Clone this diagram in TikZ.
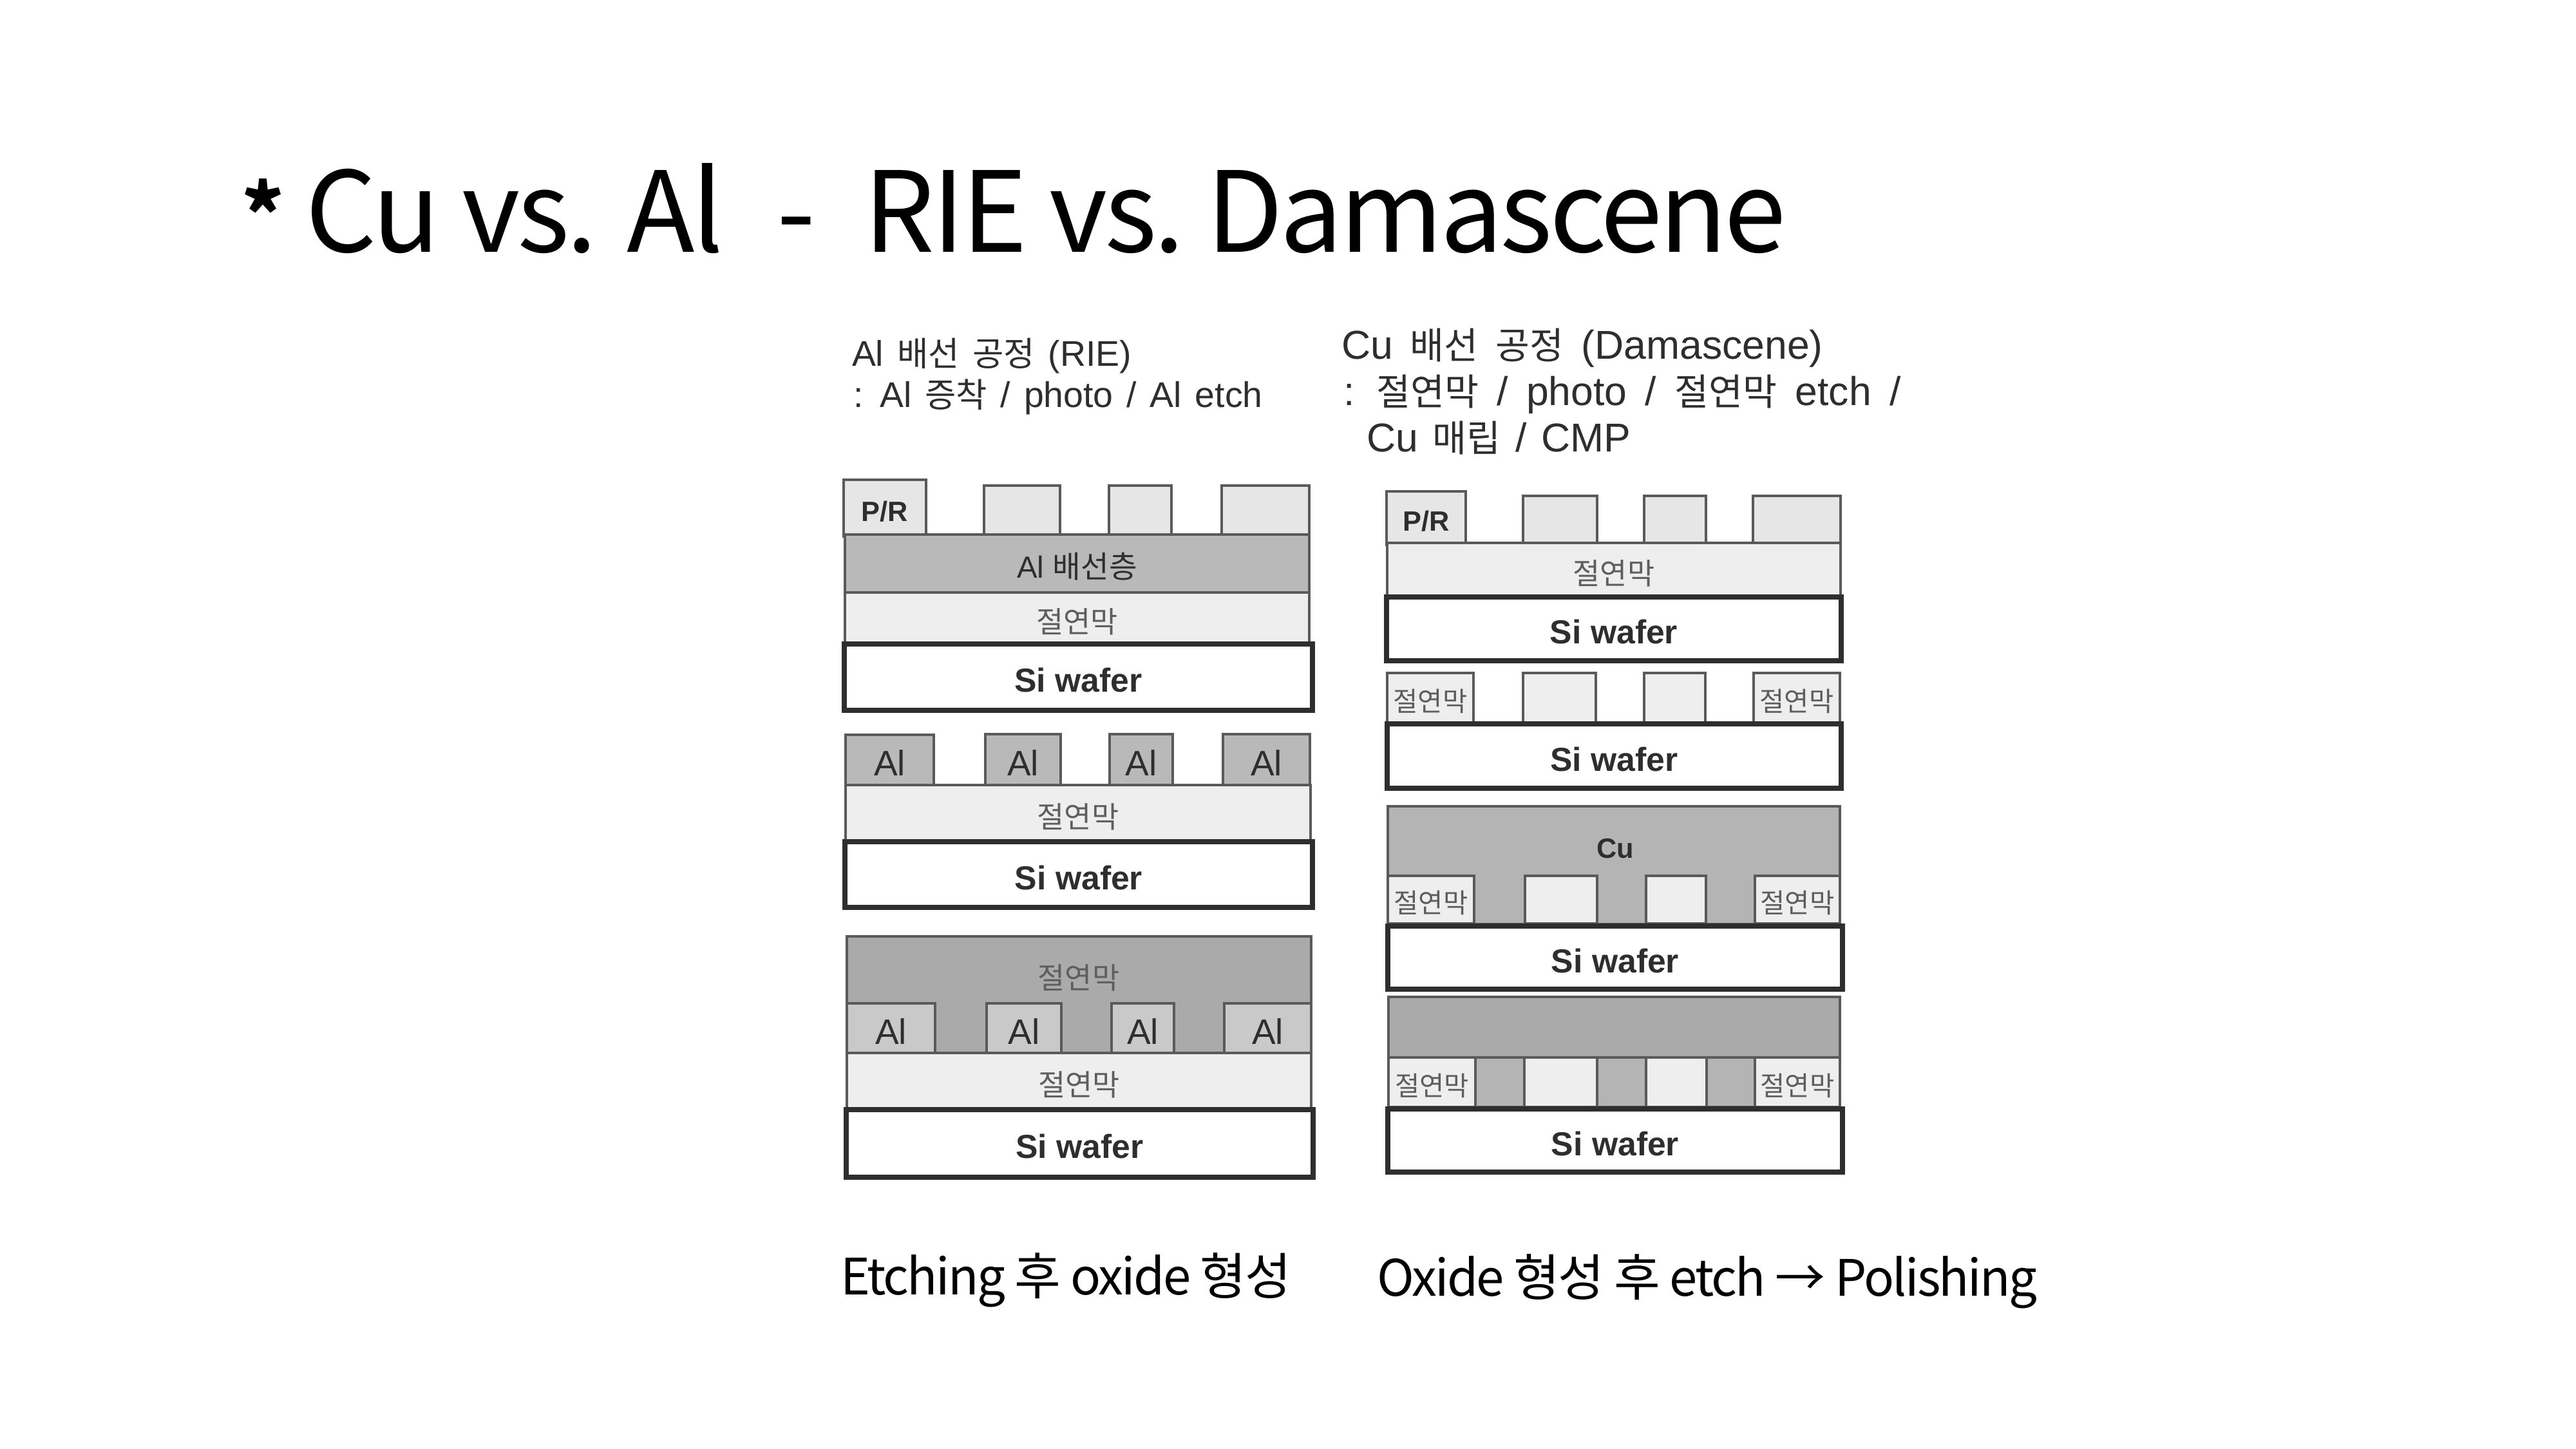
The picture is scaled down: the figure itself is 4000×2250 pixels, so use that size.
\documentclass[tikz,border=0pt]{standalone}
\usepackage{fontspec}
\setmainfont{Liberation Sans}
\newfontfamily\kr{Noto Sans CJK KR}
\newfontfamily\krtight[LetterSpace=-2.7]{Noto Sans CJK KR}
\newfontfamily\krcaption[LetterSpace=-3.4]{Noto Sans CJK KR}
\definecolor{inkscan}{HTML}{2E2E2E}
\definecolor{labelgray}{HTML}{5E5E5E}
\definecolor{edgegray}{HTML}{5A5A5A}
\definecolor{oxide}{HTML}{EEEEEE}
\definecolor{resist}{HTML}{E6E6E6}
\definecolor{metal}{HTML}{B9B9B9}
\definecolor{metallight}{HTML}{C9C9C9}
\definecolor{fillgray}{HTML}{AAAAAA}
\definecolor{copper}{HTML}{B4B4B4}
% every layer is a rectangle given by its corner positions, in pixels of a 4000 x 2250 page;
% the kern above the label sets it slightly below the centre of the rectangle
\newcommand\layer[7]{\node[#6,minimum width={(#4-#2)*0.24pt},minimum height={(#5-#3)*0.24pt}] (#1) at ({(#2+#4)/2},{(#3+#5)/2}) {\vbox{\kern2.4pt\hbox{#7}}};}
\newcommand\fs[1]{\fontsize{#1}{#1}\selectfont}
% Korean runs inside the two process summaries
\newcommand\hka[1]{{\kr\fs{12.6}#1}}
\newcommand\hkb[1]{{\kr\fs{13.8}#1}}
\tikzset{
  film/.style={draw=edgegray,line width=1pt,inner sep=0pt,outer sep=0pt,text=labelgray},
  resistbox/.style={film,fill=resist,text=inkscan,font=\fs{10.4}\bfseries},
  oxidebox/.style={film,fill=oxide,font=\kr\fs{11}},
  oxidesmall/.style={film,fill=oxide,font=\kr\fs{10}},
  metalbox/.style={film,fill=metal,text=inkscan,font=\fs{13.2}},
  metallightbox/.style={film,fill=metallight,text=inkscan,font=\fs{13.2}},
  metallayer/.style={film,fill=metal,text=inkscan,font=\fs{11.4}},
  darkfill/.style={film,fill=fillgray,font=\kr\fs{11}},
  copperfill/.style={film,fill=copper,text=inkscan,font=\fs{10.4}\bfseries},
  wafer/.style={draw=inkscan,line width=1.7pt,fill=white,inner sep=0pt,outer sep=0pt,text=inkscan,font=\fs{12.4}\bfseries},
  headleft/.style={anchor=base west,inner sep=0pt,outer sep=0pt,text=inkscan,font={\fs{13.3}\spaceskip=5pt\relax}},
  headright/.style={anchor=base west,inner sep=0pt,outer sep=0pt,text=inkscan,font={\fs{15}\spaceskip=5.5pt\relax}},
  slidetext/.style={anchor=base west,inner sep=0pt,outer sep=0pt,text=black},
}
\begin{document}
\begin{tikzpicture}[x=0.24pt,y=-0.24pt]
\useasboundingbox (0,0) rectangle (4000,2250);
\fill[white] (0,0) rectangle (4000,2250);

% slide title and captions
\node[slidetext,font=\krtight\fs{41.6}] (title) at (375,392) {\raisebox{3pt}{\fs{30}\bfseries *}\hspace{8pt}Cu vs. Al\hspace{20pt}-\hspace{18pt}RIE vs.\hspace{8pt}Damascene};
\node[slidetext,font=\krcaption\fs{18.7}] (capleft) at (1305,2011) {Etching 후 oxide 형성};
\node[slidetext,font=\krcaption\fs{18.7}] (capright) at (2138,2013) {Oxide 형성 후 etch → Polishing};

% process summaries
\node[headleft] (alhead1) at (1323,569) {Al \hka{배선 공정} (RIE)};
\node[headleft] (alhead2) at (1325,633) {: Al \hka{증착} / photo / Al etch};
\node[headright,font={\fs{15}\spaceskip=6.5pt\relax}] (cuhead1) at (2083,558) {Cu \hkb{배선 공정} (Damascene)};
\node[headright,font={\fs{15}\spaceskip=6.8pt\relax}] (cuhead2) at (2086,630) {: \hkb{절연막} / photo / \hkb{절연막} etch /};
\node[headright] (cuhead3) at (2122,702) {Cu \hkb{매립} / CMP};

% Al process, step 1: patterned resist on the metal layer
\layer{ap1}{1310}{745}{1438}{833}{resistbox}{P/R}
\layer{ap2}{1528}{754}{1646}{830}{resistbox}{}
\layer{ap3}{1722}{754}{1819}{830}{resistbox}{}
\layer{ap4}{1897}{754}{2033}{830}{resistbox}{}
\layer{amet}{1312}{830}{2033}{920}{metallayer}{Al {\kr 배선층}}
\layer{aox1}{1312}{920}{2033}{1000}{oxidebox}{절연막}
\layer{asi1}{1311}{1000}{2038}{1103}{wafer}{Si wafer}

% Al process, step 2: etched metal lines
\layer{aa1}{1313}{1141}{1450}{1219}{metalbox}{Al}
\layer{aa2}{1530}{1140}{1647}{1219}{metalbox}{Al}
\layer{aa3}{1723}{1140}{1821}{1219}{metalbox}{Al}
\layer{aa4}{1899}{1140}{2034}{1219}{metalbox}{Al}
\layer{aox2}{1313}{1219}{2035}{1307}{oxidebox}{절연막}
\layer{asi2}{1312}{1307}{2038}{1409}{wafer}{Si wafer}

% Al process, step 3: oxide fills around the lines
\layer{afill}{1315}{1454}{2036}{1635}{darkfill}{}
\node[text=labelgray,font=\kr\fs{11},inner sep=0pt] (afilltext) at (1675,1518) {절연막};
\layer{ab1}{1315}{1558}{1452}{1635}{metallightbox}{Al}
\layer{ab2}{1532}{1558}{1648}{1635}{metallightbox}{Al}
\layer{ab3}{1726}{1558}{1823}{1635}{metallightbox}{Al}
\layer{ab4}{1901}{1558}{2036}{1635}{metallightbox}{Al}
\layer{aox3}{1315}{1635}{2036}{1723}{oxidebox}{절연막}
\layer{asi3}{1314}{1723}{2039}{1828}{wafer}{Si wafer}

% Cu process, step 1: patterned resist on oxide
\layer{cp1}{2153}{763}{2276}{846}{resistbox}{P/R}
\layer{cp2}{2365}{770}{2480}{843}{resistbox}{}
\layer{cp3}{2553}{770}{2649}{843}{resistbox}{}
\layer{cp4}{2722}{770}{2858}{843}{resistbox}{}
\layer{cox1}{2154}{843}{2858}{927}{oxidebox}{절연막}
\layer{csi1}{2153}{927}{2859}{1026}{wafer}{Si wafer}

% Cu process, step 2: etched trenches
\layer{ct1}{2154}{1045}{2288}{1122}{oxidesmall}{절연막}
\layer{ct2}{2365}{1045}{2478}{1122}{oxidesmall}{}
\layer{ct3}{2553}{1045}{2648}{1122}{oxidesmall}{}
\layer{ct4}{2723}{1045}{2857}{1122}{oxidesmall}{절연막}
\layer{csi2}{2154}{1124}{2859}{1224}{wafer}{Si wafer}

% Cu process, step 3: copper overfill
\layer{cfill}{2155}{1252}{2857}{1435}{copperfill}{}
\node[text=inkscan,font=\fs{10.4}\bfseries,inner sep=0pt] (cfilltext) at (2508,1318) {Cu};
\layer{cu1}{2155}{1360}{2289}{1434}{oxidesmall}{절연막}
\layer{cu2}{2368}{1360}{2480}{1434}{oxidesmall}{}
\layer{cu3}{2556}{1360}{2649}{1434}{oxidesmall}{}
\layer{cu4}{2725}{1360}{2857}{1434}{oxidesmall}{절연막}
\layer{csi3}{2155}{1438}{2861}{1536}{wafer}{Si wafer}

% Cu process, step 4: copper plugs before polishing
\layer{cv0}{2156}{1548}{2857}{1642}{darkfill}{}
\layer{cv1}{2156}{1642}{2291}{1719}{oxidesmall}{절연막}
\layer{cv2}{2291}{1642}{2367}{1719}{copperfill}{}
\layer{cv3}{2367}{1642}{2480}{1719}{oxidesmall}{}
\layer{cv4}{2480}{1642}{2556}{1719}{copperfill}{}
\layer{cv5}{2556}{1642}{2650}{1719}{oxidesmall}{}
\layer{cv6}{2650}{1642}{2725}{1719}{copperfill}{}
\layer{cv7}{2725}{1642}{2857}{1719}{oxidesmall}{절연막}
\layer{csi4}{2155}{1722}{2861}{1820}{wafer}{Si wafer}
\end{tikzpicture}
\end{document}
